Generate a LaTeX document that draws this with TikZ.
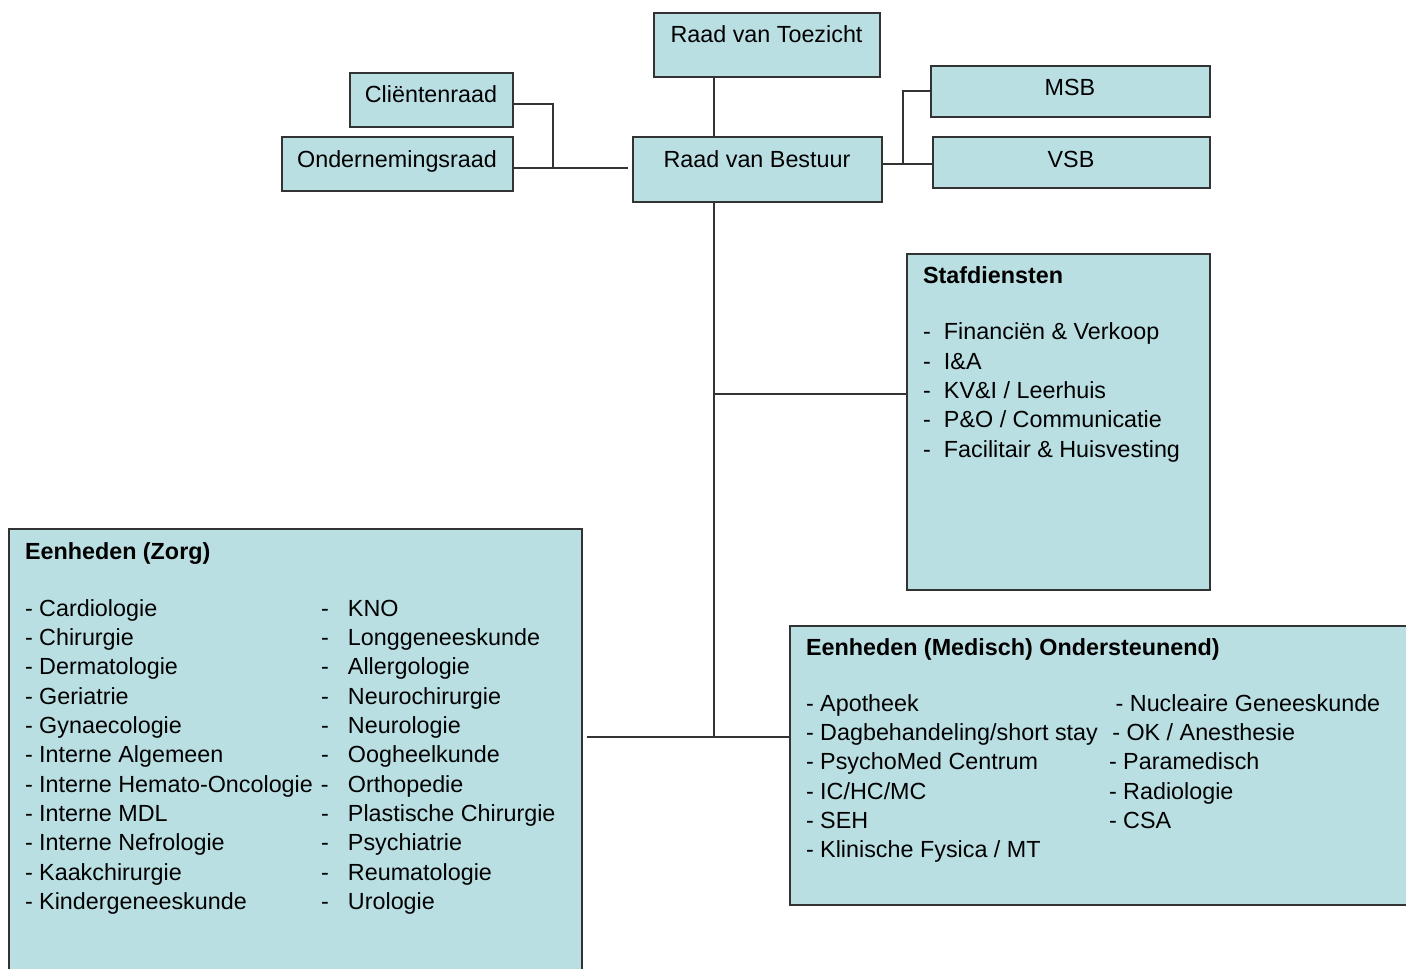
\documentclass[tikz,border=0pt]{standalone}
\usepackage{fontspec}
\setmainfont{Liberation Sans}
\usetikzlibrary{positioning, calc}
\definecolor{cfill}{HTML}{B9DFE3}
\definecolor{cline}{HTML}{333333}
\tikzset{
  every picture/.style={x=0.75pt, y=-0.75pt, font=\fontsize{17.5}{22}\selectfont, line width=1.5pt},
  box/.style={draw=cline, fill=cfill, rectangle, inner sep=0pt, anchor=north west},
  txt/.style={anchor=base, inner sep=0pt},
  list/.style={anchor=base west, inner sep=0pt, align=left},
  conn/.style={draw=cline, line width=1.5pt},
}

\begin{document}
\begin{tikzpicture}
  \useasboundingbox (0,0) rectangle (1406,969);
  % top of the organisation
  \node[box, minimum width=169.5pt, minimum height=48pt] (rvt) at (652.5,12) {};
  \node[txt] (rvtlabel) at (rvt.center |- 0,43) {Raad van Toezicht};
  \node[box, minimum width=186.75pt, minimum height=48.75pt] (rvb) at (631.5,136) {};
  \node[txt] (rvblabel) at (rvb.center |- 0,168) {Raad van Bestuur};
  % councils on the left
  \node[box, minimum width=122.25pt, minimum height=40.5pt] (cr) at (348.5,72) {};
  \node[txt] (crlabel) at (cr.center |- 0,103) {Cliëntenraad};
  \node[box, minimum width=173.25pt, minimum height=40.5pt] (or) at (280.5,136) {};
  \node[txt] (orlabel) at (or.center |- 0,168) {Ondernemingsraad};
  % staff boards on the right
  \node[box, minimum width=209.25pt, minimum height=38.25pt] (msb) at (929.5,65) {};
  \node[txt] (msblabel) at (msb.center |- 0,96) {MSB};
  \node[box, minimum width=207.75pt, minimum height=38.25pt] (vsb) at (931.5,136) {};
  \node[txt] (vsblabel) at (vsb.center |- 0,168) {VSB};

  % staff departments
  \node[box, minimum width=227.25pt, minimum height=252pt] (staf) at (905.5,253) {};
  \node[list] (staflist) at (922,284) {\begin{tabular}[t]{@{}p{15.75pt}@{}l@{}}
    \multicolumn{2}{@{}l@{}}{\bfseries Stafdiensten}\\[20pt]
    - & Financiën \& Verkoop\\
    - & I\&A\\
    - & KV\&I / Leerhuis\\
    - & P\&O / Communicatie\\
    - & Facilitair \& Huisvesting
  \end{tabular}};

  % care units
  \node[box, minimum width=429.75pt, minimum height=352.5pt] (zorg) at (7.5,528) {};
  \node[list] (zorglist) at (24,559) {\begin{tabular}[t]{@{}p{222pt}@{}p{20.25pt}@{}l@{}}
    \multicolumn{3}{@{}l@{}}{\bfseries Eenheden (Zorg)}\\[20.75pt]
    - Cardiologie & - & KNO\\
    - Chirurgie & - & Longgeneeskunde\\
    - Dermatologie & - & Allergologie\\
    - Geriatrie & - & Neurochirurgie\\
    - Gynaecologie & - & Neurologie\\
    - Interne Algemeen & - & Oogheelkunde\\
    - Interne Hemato-Oncologie & - & Orthopedie\\
    - Interne MDL & - & Plastische Chirurgie\\
    - Interne Nefrologie & - & Psychiatrie\\
    - Kaakchirurgie & - & Reumatologie\\
    - Kindergeneeskunde & - & Urologie
  \end{tabular}};

  % (medical) support units
  \node[box, minimum width=472.5pt, minimum height=209.25pt] (med) at (788.5,625) {};
  \node[list] (medlist) at (805,655) {\begin{tabular}[t]{@{}p{227.25pt}@{}l@{}}
    \multicolumn{2}{@{}l@{}}{\bfseries Eenheden (Medisch) Ondersteunend)}\\[20pt]
    - Apotheek & \hspace{5pt}- Nucleaire Geneeskunde\\
    - Dagbehandeling/short stay & \hspace{2.5pt}- OK / Anesthesie\\
    - PsychoMed Centrum & - Paramedisch\\
    - IC/HC/MC & - Radiologie\\
    - SEH & - CSA\\
    - Klinische Fysica / MT &
  \end{tabular}};

  % connectors
  \coordinate (trunk) at (714,737);
  \coordinate (jstaf) at (714,394);
  \coordinate (jleft) at (553,168);
  \coordinate (jright) at (903,164);
  \draw[conn] (rvt.south -| trunk) -- (rvb.north -| trunk);
  \draw[conn] (rvb.south -| trunk) -- (trunk);
  \draw[conn] (jstaf) -- (jstaf -| staf.west);
  \draw[conn, shorten <=3pt] (trunk -| zorg.east) -- (trunk -| med.west);
  \draw[conn] (cr.east |- 0,104) -| (jleft);
  \draw[conn, shorten >=3pt] (or.east |- jleft) -- (jleft -| rvb.west);
  \draw[conn] (rvb.east |- jright) -- (jright -| vsb.west);
  \draw[conn] (jright) |- (msb.west);
\end{tikzpicture}
\end{document}
